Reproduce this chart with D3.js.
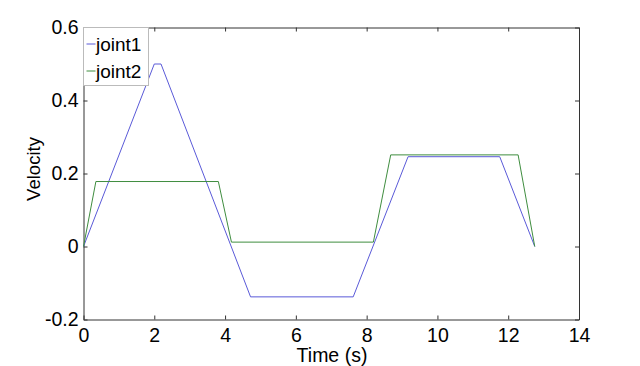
<!DOCTYPE html>
<html>
<head>
<meta charset="utf-8">
<script src="https://cdn.jsdelivr.net/npm/d3@7"></script>
<style>
  body { margin: 0; background: #fff; }
  text { font-family: "Liberation Sans", Arial, sans-serif; }
</style>
</head>
<body>
<div id="chart"></div>
<script>
// data
var joint1Time = [0, 2.0, 2.19, 4.72, 7.62, 9.17, 11.76, 12.75];
var joint1Vel = [0, 0.5, 0.5, -0.138, -0.138, 0.246, 0.246, 0];
var joint2Time = [0, 0.35, 3.81, 4.18, 8.19, 8.68, 12.28, 12.75];
var joint2Vel = [0, 0.178, 0.178, 0.012, 0.012, 0.251, 0.251, 0];
var xTicks = [0, 2, 4, 6, 8, 10, 12, 14];
var yTicks = [-0.2, 0, 0.2, 0.4, 0.6];
var yTickLabels = ["-0.2", "0", "0.2", "0.4", "0.6"];
var seriesNames = ["joint1", "joint2"];
var seriesColors = ["#5a5ad8", "#3f8d3f"];

var svgWidth = 640;
var svgHeight = 366;
var margin = { top: 27.5, right: 61, bottom: 46.5, left: 83.5 };
var width = svgWidth - margin.left - margin.right;
var height = svgHeight - margin.top - margin.bottom;

var svg = d3.select("#chart")
  .append("svg")
  .attr("width", svgWidth)
  .attr("height", svgHeight);

var chartGroup = svg.append("g")
  .attr("transform", `translate(${margin.left}, ${margin.top})`);

var xScale = d3.scaleLinear().domain([0, 14]).range([0, width]);
var yScale = d3.scaleLinear().domain([-0.2, 0.6]).range([height, 0]);

// axes, ticks pointing inward
var bottomAxis = d3.axisBottom(xScale).tickValues(xTicks).tickSizeInner(-4).tickSizeOuter(0);
var topAxis = d3.axisTop(xScale).tickValues(xTicks).tickSizeInner(-4).tickSizeOuter(0).tickFormat("");
var leftAxis = d3.axisLeft(yScale).tickValues(yTicks).tickSizeInner(-4).tickSizeOuter(0).tickPadding(5)
  .tickFormat((d, i) => yTickLabels[i]);
var rightAxis = d3.axisRight(yScale).tickValues(yTicks).tickSizeInner(-4).tickSizeOuter(0).tickFormat("");

var xAxisG = chartGroup.append("g").attr("transform", `translate(0, ${height})`).call(bottomAxis);
chartGroup.append("g").call(topAxis);
var yAxisG = chartGroup.append("g").call(leftAxis);
chartGroup.append("g").attr("transform", `translate(${width}, 0)`).call(rightAxis);

chartGroup.selectAll(".domain").attr("stroke", "#333");
chartGroup.selectAll(".tick line").attr("stroke", "#333");
chartGroup.selectAll(".tick text").attr("fill", "#000").style("font-size", "19.5px");
xAxisG.selectAll(".tick text").attr("y", 9).attr("dy", "0.71em");

// lines
var lineGen = d3.line()
  .x(d => xScale(d[0]))
  .y(d => yScale(d[1]));

var seriesData = [
  d3.zip(joint1Time, joint1Vel),
  d3.zip(joint2Time, joint2Vel)
];

chartGroup.selectAll(".series")
  .data(seriesData)
  .enter()
  .append("path")
  .attr("class", "series")
  .attr("d", lineGen)
  .attr("fill", "none")
  .attr("stroke", (d, i) => seriesColors[i])
  .attr("stroke-width", 1);

// legend
var legend = chartGroup.append("g");
legend.append("rect")
  .attr("x", 0)
  .attr("y", 0)
  .attr("width", 65)
  .attr("height", 58)
  .attr("fill", "#fff")
  .attr("stroke", "#bbb");

seriesNames.forEach(function(name, i) {
  var y = 16.5 + i * 27;
  legend.append("line")
    .attr("x1", 3).attr("x2", 12)
    .attr("y1", y).attr("y2", y)
    .attr("stroke", seriesColors[i]);
  legend.append("text")
    .attr("x", 12.5)
    .attr("y", y)
    .attr("dy", "0.35em")
    .style("font-size", "19px")
    .text(name);
});

// axis labels
svg.append("text")
  .attr("transform", "translate(40, 169) rotate(-90)")
  .attr("text-anchor", "middle")
  .style("font-size", "18.5px")
  .text("Velocity");

svg.append("text")
  .attr("x", 332)
  .attr("y", 362)
  .attr("text-anchor", "middle")
  .style("font-size", "19.5px")
  .text("Time (s)");
</script>
</body>
</html>
